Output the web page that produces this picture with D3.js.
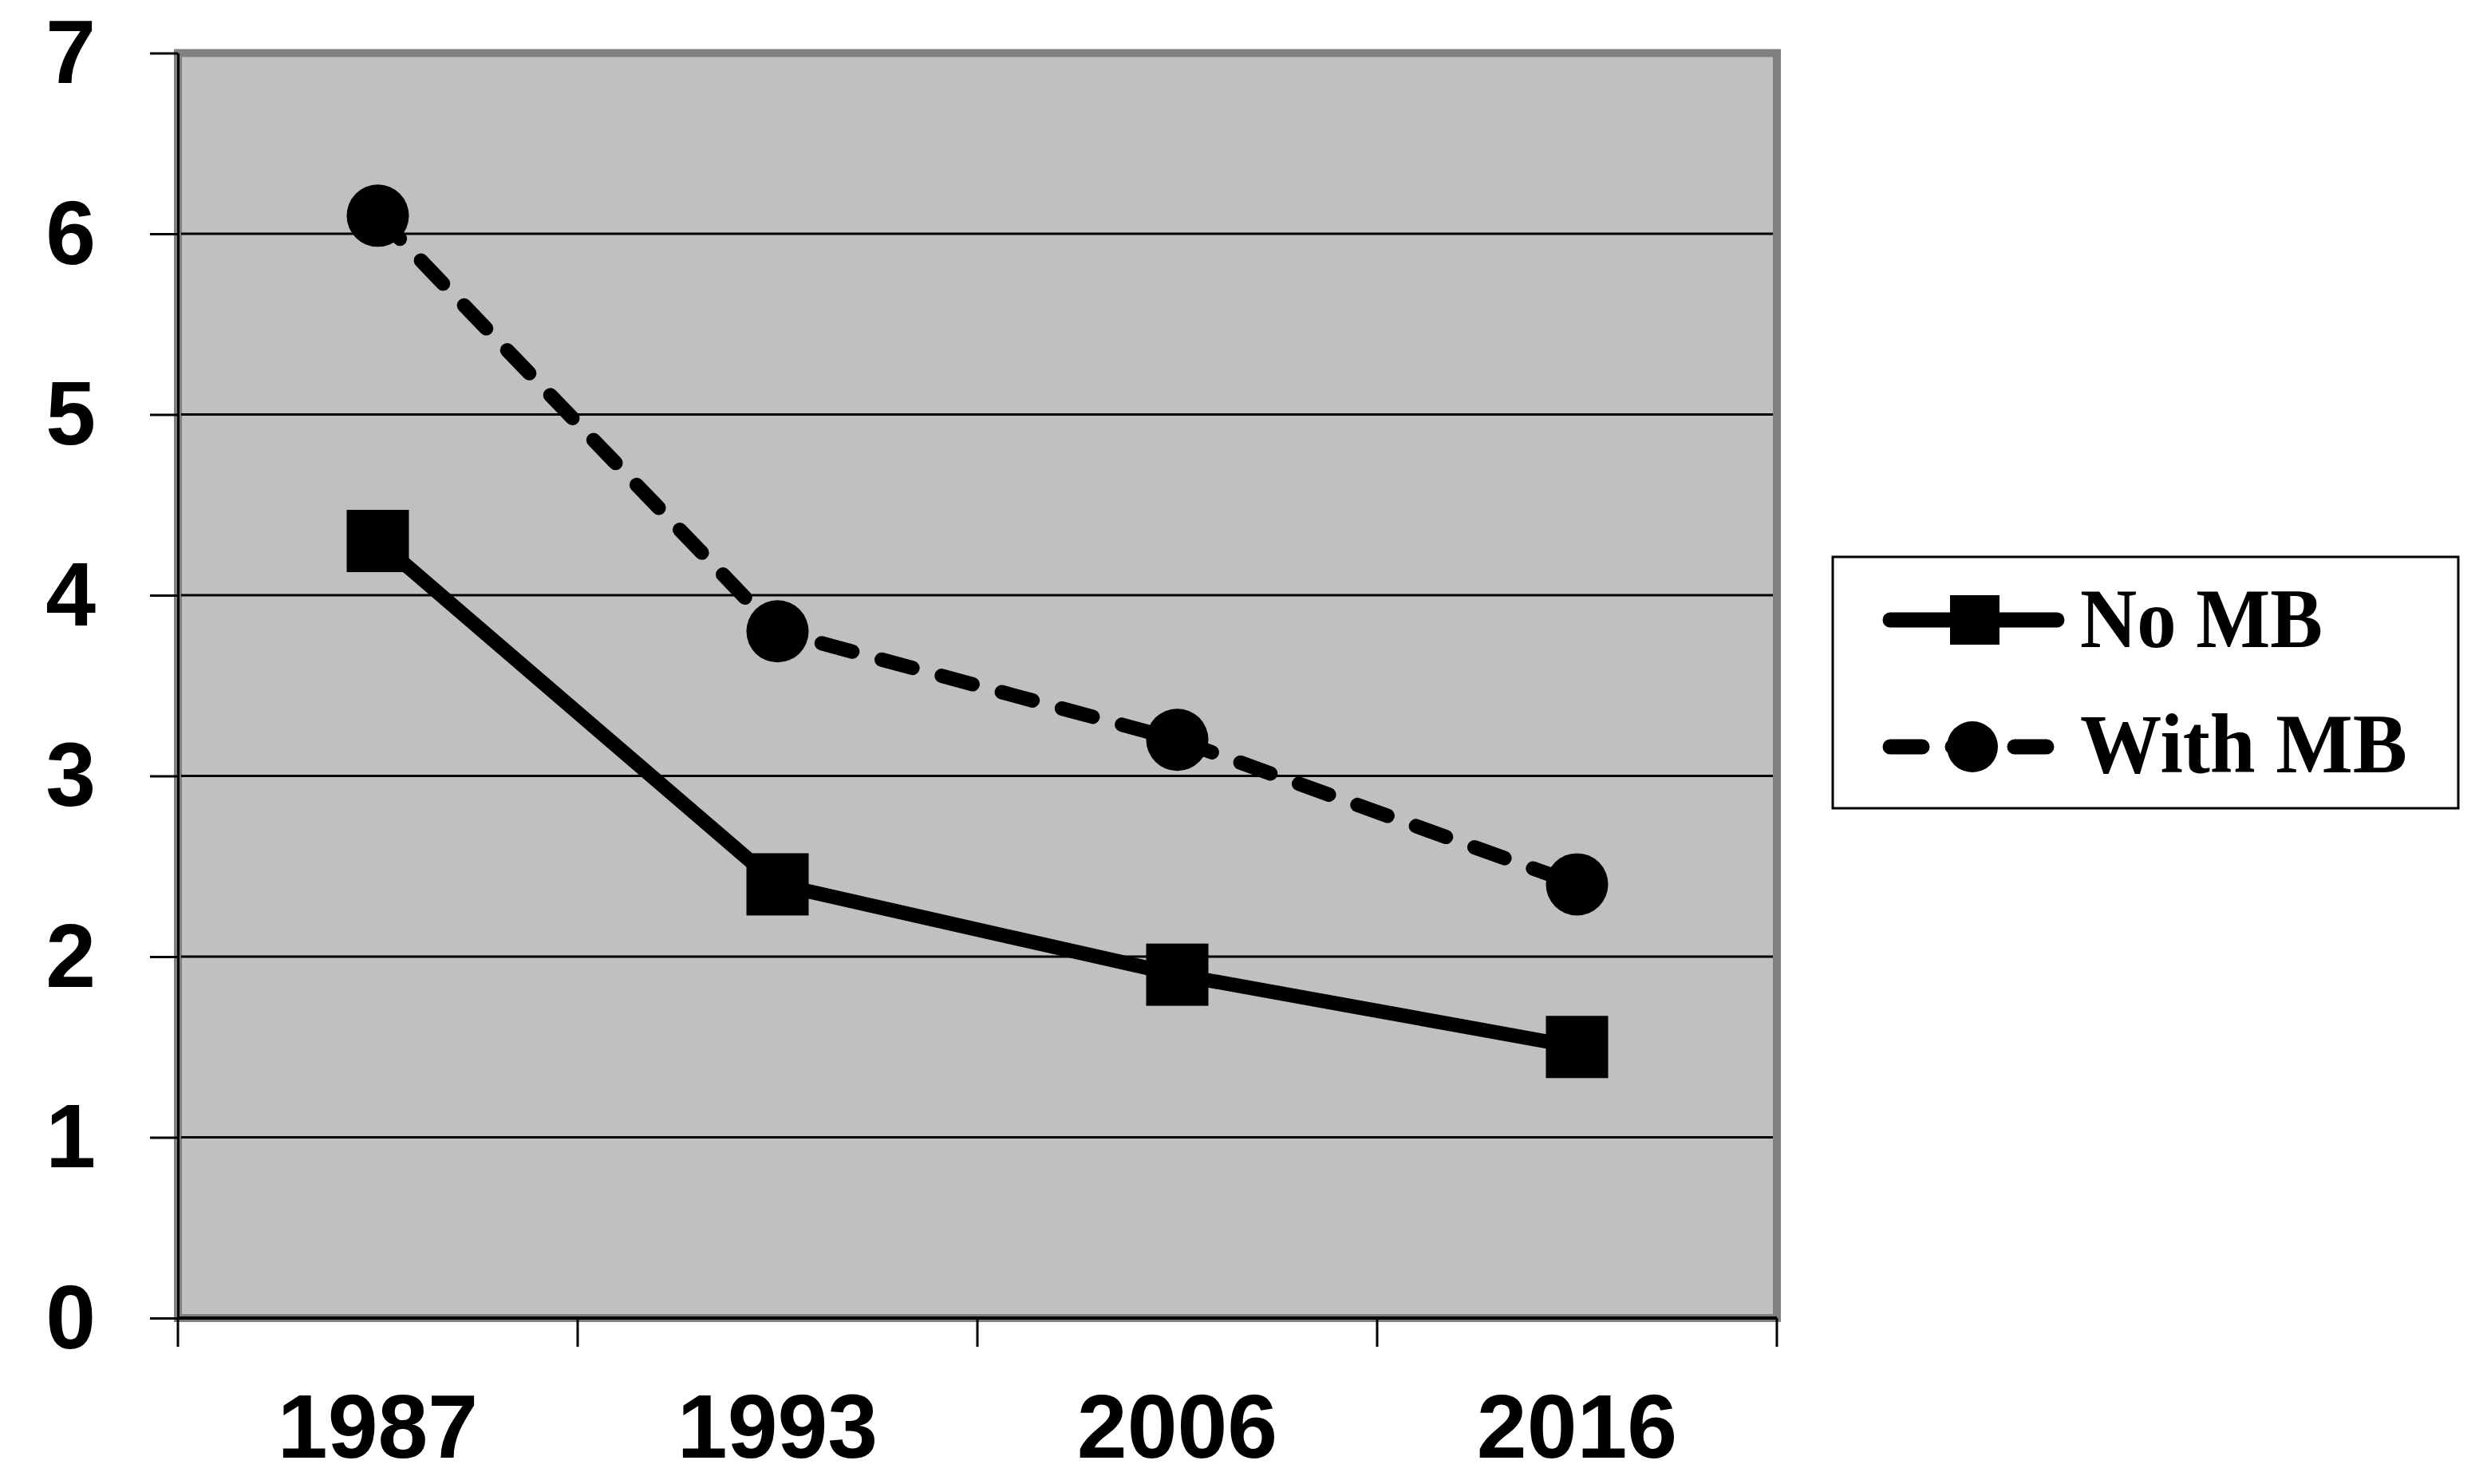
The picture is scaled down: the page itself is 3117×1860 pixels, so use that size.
<!DOCTYPE html>
<html>
<head>
<meta charset="utf-8">
<script src="https://cdn.jsdelivr.net/npm/d3@7"></script>
<style>
  html, body { margin: 0; padding: 0; background: #ffffff; }
  svg { display: block; }
</style>
</head>
<body>
<script>
// ---- data ----
const categories = ["1987", "1993", "2006", "2016"];
const noMB = [4.3, 2.4, 1.9, 1.5];
const withMB = [6.1, 3.8, 3.2, 2.4];
const yTicks = [0, 1, 2, 3, 4, 5, 6, 7];
const seriesNames = ["No MB", "With MB"];

// ---- layout ----
const W = 3117, H = 1860;
const plot = { left: 223, right: 2227, top: 66.5, bottom: 1652 };

const svg = d3.select("body").append("svg")
  .attr("width", W).attr("height", H)
  .attr("viewBox", `0 0 ${W} ${H}`);

svg.append("rect").attr("width", W).attr("height", H).attr("fill", "#ffffff");

const x = d3.scaleBand().domain(categories).range([plot.left, plot.right]).padding(0);
const y = d3.scaleLinear().domain([0, 7]).range([plot.bottom, plot.top]);
const bw = x.bandwidth();
const cx = c => x(c) + bw / 2;

// plot area
svg.append("rect")
  .attr("x", plot.left).attr("y", plot.top)
  .attr("width", plot.right - plot.left).attr("height", plot.bottom - plot.top)
  .attr("fill", "#c0c0c0").attr("stroke", "#808080").attr("stroke-width", 10);

// gridlines
svg.append("g").selectAll("line")
  .data(yTicks.filter(t => t > 0 && t < 7))
  .join("line")
  .attr("x1", plot.left + 4).attr("x2", plot.right - 5)
  .attr("y1", d => y(d)).attr("y2", d => y(d))
  .attr("stroke", "#000").attr("stroke-width", 3);

// y axis
const yAxis = svg.append("g")
  .attr("transform", `translate(${plot.left},0)`)
  .call(d3.axisLeft(y).tickValues(yTicks).tickSize(35).tickSizeOuter(0).tickPadding(68).tickFormat(d3.format("d")));
yAxis.select(".domain").attr("stroke", "#000").attr("stroke-width", 3);
yAxis.selectAll(".tick line").attr("stroke", "#000").attr("stroke-width", 3);
yAxis.selectAll(".tick text")
  .attr("dy", null).attr("y", 37)
  .attr("fill", "#000")
  .style("font-family", "'Liberation Sans', Arial, sans-serif")
  .style("font-weight", "bold")
  .style("font-size", "113px");

// x axis line
svg.append("line")
  .attr("x1", plot.left).attr("x2", plot.right)
  .attr("y1", y(0)).attr("y2", y(0))
  .attr("stroke", "#000").attr("stroke-width", 4);

// x ticks at band edges
const edges = categories.map(c => x(c)).concat([x.range()[1]]);
svg.append("g").selectAll("line")
  .data(edges)
  .join("line")
  .attr("x1", d => d).attr("x2", d => d)
  .attr("y1", y(0)).attr("y2", y(0) + 36)
  .attr("stroke", "#000").attr("stroke-width", 3);

// x labels
svg.append("g").selectAll("text")
  .data(categories)
  .join("text")
  .attr("x", d => cx(d)).attr("y", 1827)
  .attr("text-anchor", "middle")
  .attr("fill", "#000")
  .style("font-family", "'Liberation Sans', Arial, sans-serif")
  .style("font-weight", "bold")
  .style("font-size", "113px")
  .text(d => d);

// series lines
const lineGen = d3.line().x(d => cx(d.c)).y(d => y(d.v));
const noData = categories.map((c, i) => ({ c, v: noMB[i] }));
const withData = categories.map((c, i) => ({ c, v: withMB[i] }));

svg.append("path").datum(withData)
  .attr("d", lineGen).attr("fill", "none")
  .attr("stroke", "#000").attr("stroke-width", 18)
  .attr("stroke-dasharray", "40,38").attr("stroke-linecap", "round")
  .attr("stroke-linejoin", "round");

svg.append("path").datum(noData)
  .attr("d", lineGen).attr("fill", "none")
  .attr("stroke", "#000").attr("stroke-width", 18)
  .attr("stroke-linejoin", "round");

// markers
const sq = 78;
svg.append("g").selectAll("rect")
  .data(noData).join("rect")
  .attr("x", d => cx(d.c) - sq / 2).attr("y", d => y(d.v) - sq / 2)
  .attr("width", sq).attr("height", sq).attr("fill", "#000");

svg.append("g").selectAll("circle")
  .data(withData).join("circle")
  .attr("cx", d => cx(d.c)).attr("cy", d => y(d.v))
  .attr("r", 39).attr("fill", "#000");

// legend
const lg = svg.append("g");
lg.append("rect")
  .attr("x", 2297).attr("y", 698).attr("width", 784).attr("height", 315)
  .attr("fill", "#fff").attr("stroke", "#000").attr("stroke-width", 3);

const legendRows = [
  { name: seriesNames[0], y: 777, dash: null, marker: "square", textY: 811, len: 304 },
  { name: seriesNames[1], y: 936, dash: "40,38", marker: "circle", textY: 968, len: 410 }
];
legendRows.forEach(r => {
  lg.append("line")
    .attr("x1", 2369).attr("x2", 2578).attr("y1", r.y).attr("y2", r.y)
    .attr("stroke", "#000").attr("stroke-width", 19)
    .attr("stroke-linecap", "round")
    .attr("stroke-dasharray", r.dash);
  if (r.marker === "square") {
    lg.append("rect").attr("x", 2444).attr("y", r.y - 31).attr("width", 62).attr("height", 62).attr("fill", "#000");
  } else {
    lg.append("circle").attr("cx", 2472).attr("cy", r.y).attr("r", 32).attr("fill", "#000");
  }
  lg.append("text")
    .attr("x", 2607).attr("y", r.textY)
    .attr("fill", "#000")
    .attr("textLength", r.len).attr("lengthAdjust", "spacingAndGlyphs")
    .style("font-family", "'Liberation Serif', 'DejaVu Serif', serif")
    .style("font-weight", "bold")
    .style("font-size", "106px")
    .text(r.name);
});
</script>
</body>
</html>
